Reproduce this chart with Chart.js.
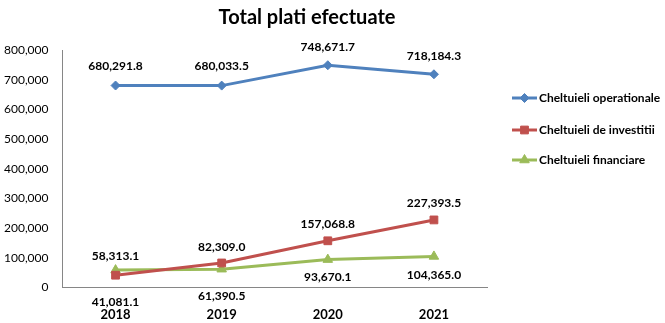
<!DOCTYPE html>
<html>
<head>
<meta charset="utf-8">
<title>Total plati efectuate</title>
<script src="https://cdn.jsdelivr.net/npm/chart.js@4.4.1/dist/chart.umd.min.js"></script>
<style>
    html, body { margin: 0; padding: 0; background: #ffffff; overflow: hidden; }
    canvas { display: block; }
</style>
</head>
<body>
<canvas id="platiChart" width="665" height="323"></canvas>
<script>
// date
const ani = ['2018', '2019', '2020', '2021'];
const operationale = [680291.8, 680033.5, 748671.7, 718184.3];
const investitii = [41081.1, 82309.0, 157068.8, 227393.5];
const financiare = [58313.1, 61390.5, 93670.1, 104365.0];
const numeSerii = ['Cheltuieli operationale', 'Cheltuieli de investitii', 'Cheltuieli financiare'];
const titlu = 'Total plati efectuate';
const yMin = 0;
const yMax = 800000;
const yPas = 100000;

const FONT = 'Lato, "Liberation Sans", Arial, sans-serif';
Chart.defaults.font.family = FONT;
Chart.defaults.color = '#000000';

const fmtEticheta = v => v.toLocaleString('en-US', { minimumFractionDigits: 1, maximumFractionDigits: 1 });
const fmtAxa = v => v.toLocaleString('en-US');

// deplasarea verticala a etichetelor fata de punct (negativ = deasupra)
const deplasari = [
    [-19, -19, -18, -18],
    [27, -16, -17, -17],
    [-14, 27, 18, 19]
];

function deseneazaMarker(ctx, ds, x, y) {
    ctx.save();
    ctx.fillStyle = ds.pointBackgroundColor;
    ctx.strokeStyle = ds.pointBorderColor;
    ctx.lineWidth = 1;
    Chart.helpers.drawPoint(ctx, {
        pointStyle: ds.pointStyle,
        radius: ds.pointRadius,
        rotation: 0,
        borderWidth: 1
    }, x, y);
    ctx.restore();
}

// titlu, etichete de valori si legenda
const extraPlugin = {
    id: 'extra',
    afterDatasetsDraw(chart) {
        const ctx = chart.ctx;
        ctx.save();
        ctx.font = 'bold 12px ' + FONT;
        ctx.fillStyle = '#000000';
        ctx.textAlign = 'center';
        ctx.textBaseline = 'middle';
        chart.data.datasets.forEach((ds, i) => {
            const meta = chart.getDatasetMeta(i);
            meta.data.forEach((pt, j) => {
                ctx.fillText(fmtEticheta(ds.data[j]), pt.x, pt.y + deplasari[i][j]);
            });
        });
        ctx.restore();
    },
    afterDraw(chart) {
        const ctx = chart.ctx;
        ctx.save();
        // titlu
        ctx.font = 'bold 20px ' + FONT;
        ctx.fillStyle = '#000000';
        ctx.textAlign = 'center';
        ctx.textBaseline = 'middle';
        ctx.fillText(titlu, 307, 18);

        // legenda
        const rand = [98, 130, 160];
        ctx.font = 'bold 12px ' + FONT;
        ctx.textAlign = 'left';
        chart.data.datasets.forEach((ds, i) => {
            const y = rand[i];
            ctx.strokeStyle = ds.borderColor;
            ctx.lineWidth = ds.borderWidth;
            ctx.beginPath();
            ctx.moveTo(512, y);
            ctx.lineTo(537, y);
            ctx.stroke();
            deseneazaMarker(ctx, ds, 524.5, y);
            ctx.fillStyle = '#000000';
            ctx.fillText(ds.label, 539, y);
        });
        ctx.restore();
    }
};

const serie = (label, data, culoare, stil, raza) => ({
    label: label,
    data: data,
    borderColor: culoare,
    backgroundColor: culoare,
    borderWidth: 3,
    pointStyle: stil,
    pointRadius: raza,
    pointBackgroundColor: culoare,
    pointBorderColor: culoare,
    pointBorderWidth: 1,
    tension: 0
});

new Chart(document.getElementById('platiChart'), {
    type: 'line',
    data: {
        labels: ani,
        datasets: [
            serie(numeSerii[0], operationale, '#4F81BD', 'rectRot', 4.5),
            serie(numeSerii[1], investitii, '#C0504D', 'rect', 5.5),
            serie(numeSerii[2], financiare, '#9BBB59', 'triangle', 5.5)
        ]
    },
    options: {
        responsive: false,
        animation: false,
        layout: {
            // scalele rezerva de doua ori padding-ul etichetelor, de aici valorile negative
            padding: { top: 50, right: 178, bottom: -20, left: -10 }
        },
        plugins: {
            legend: { display: false },
            title: { display: false },
            tooltip: { enabled: false }
        },
        scales: {
            x: {
                offset: true,
                grid: { display: false, drawTicks: false },
                border: { display: true, color: '#868686', width: 1 },
                ticks: {
                    padding: 20,
                    font: { size: 13, weight: 'bold' },
                    color: '#000000'
                }
            },
            y: {
                min: yMin,
                max: yMax,
                grid: { display: false, drawTicks: false },
                border: { display: true, color: '#868686', width: 1 },
                ticks: {
                    stepSize: yPas,
                    padding: 14,
                    font: { size: 12 },
                    color: '#000000',
                    callback: v => fmtAxa(v)
                }
            }
        }
    },
    plugins: [extraPlugin]
});
</script>
</body>
</html>
